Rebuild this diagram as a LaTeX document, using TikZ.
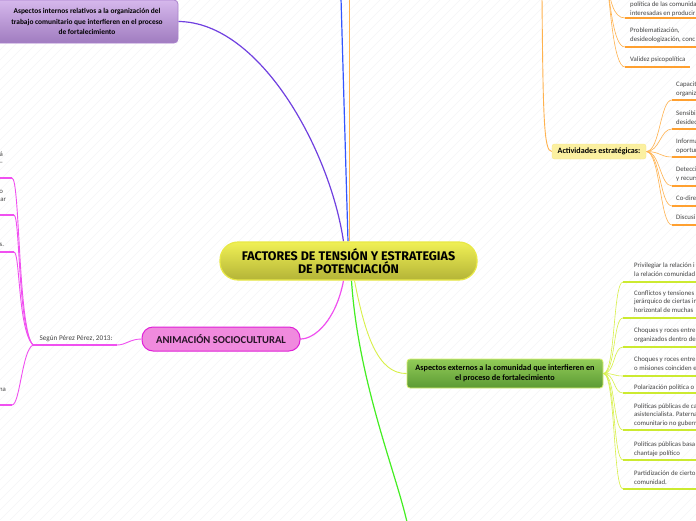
\documentclass[tikz,border=0pt]{standalone}
\usepackage{fontspec}
\setmainfont{Carlito}
\newfontfamily\titlefont{Fira Sans}
\definecolor{bgl}{HTML}{EEEEF2}
\definecolor{purp}{HTML}{7040E0}
\definecolor{blu}{HTML}{3355FF}
\definecolor{org}{HTML}{FFB24D}
\definecolor{orgU}{HTML}{FFA030}
\definecolor{mag}{HTML}{F050F0}
\definecolor{grn}{HTML}{44EE22}
\definecolor{ylg}{HTML}{D8F048}
\definecolor{ylgU}{HTML}{CCEA30}
\definecolor{txt}{HTML}{444444}
\pgfdeclarelayer{back}
\pgfdeclarelayer{bg}
\pgfsetlayers{back,bg,main}
\tikzset{
  mainline/.style={line width=1.2pt},
  leafline/.style={line width=0.6pt},
  underl/.style={line width=1.5pt},
  leaf/.style={inner sep=0pt, align=left, text=txt, font=\fontsize{6.8}{8.5}\selectfont},
  frag/.style={inner sep=0pt, text=txt, font=\fontsize{6.8}{8.5}\selectfont},
  centerbox/.style={rounded corners=18pt, minimum width=257pt, minimum height=38pt, inner sep=0pt,
    top color={rgb,255:red,240;green,240;blue,85}, bottom color={rgb,255:red,180;green,180;blue,55},
    draw={rgb,255:red,232;green,232;blue,70}, line width=1.2pt, align=center,
    font=\titlefont\bfseries\fontsize{12.5}{13.5}\selectfont},
  innerbox/.style={rounded corners=4pt, minimum width=182pt, minimum height=43pt, inner sep=0pt,
    top color={rgb,255:red,214;green,184;blue,236}, bottom color={rgb,255:red,160;green,124;blue,192},
    draw={rgb,255:red,170;green,130;blue,205}, line width=0.8pt, align=center,
    font=\bfseries\fontsize{7.4}{10.5}\selectfont},
  animbox/.style={rounded corners=11pt, minimum width=158pt, minimum height=24pt, inner sep=0pt,
    fill={rgb,255:red,240;green,138;blue,222}, draw={rgb,255:red,224;green,32;blue,216}, line width=1pt,
    font=\bfseries\fontsize{10.6}{12}\selectfont, text={rgb,255:red,40;green,20;blue,40}},
  extbox/.style={rounded corners=3pt, minimum width=196pt, minimum height=29pt, inner sep=0pt,
    top color={rgb,255:red,146;green,204;blue,88}, bottom color={rgb,255:red,92;green,154;blue,52},
    draw={rgb,255:red,216;green,240;blue,112}, line width=0.8pt, align=center,
    font=\bfseries\fontsize{8.2}{10}\selectfont},
  actbox/.style={rounded corners=2.5pt, minimum width=94pt, minimum height=15pt, inner sep=0pt,
    fill={rgb,255:red,251;green,240;blue,160}, draw={rgb,255:red,248;green,232;blue,140}, line width=0.4pt,
    font=\bfseries\fontsize{8.1}{9}\selectfont}
}
\begin{document}
\begin{tikzpicture}[x=1pt,y=-1pt]
\useasboundingbox (0,0) rectangle (696,520);
\begin{pgfonlayer}{back}
\fill[white] (0,0) rectangle (696,520);
\begin{scope}
\clip (0,0) rectangle (696,520);
\foreach \i in {-520,-510,...,700} \draw[bgl, line width=0.3pt] (\i,520) -- (\i+520,0);
\end{scope}
\end{pgfonlayer}

% main nodes
\node[centerbox] (c) at (348.5,261) {FACTORES DE TENSIÓN Y ESTRATEGIAS\\DE POTENCIACIÓN};
\node[innerbox] (in) at (87,21.5) {Aspectos internos relativos a la organización del\\trabajo comunitario que interfieren en el proceso\\de fortalecimiento};
\node[animbox] (anim) at (221,339) {ANIMACIÓN SOCIOCULTURAL};
\node[extbox] (ext) at (505,373.5) {Aspectos externos a la comunidad que interfieren en\\el proceso de fortalecimiento};
\node[actbox] (act) at (599,151.5) {Actividades estratégicas:};

% free ends
\coordinate (bluetop) at (341,-2);
\coordinate (orgtop) at (349.5,-2);
\coordinate (gbot) at (407,522);
\coordinate (acttop) at (542,-4);
\coordinate (ptop) at (606,-25);
\coordinate (sr) at (117,345);
\coordinate (sl) at (33,345);

\begin{pgfonlayer}{bg}
\draw[mainline, purp] (in.east) .. controls (260,22) and (330,150) .. ([xshift=-5pt]c.north);
\draw[mainline, blu] ([xshift=-0.5pt]c.north) -- (bluetop);
\draw[mainline, org] ([xshift=1pt]c.north) -- (orgtop);
\draw[mainline, mag] ([xshift=-5pt]c.south) .. controls (336,320) and (315,339) .. (anim.east);
\draw[mainline, grn] ([xshift=3pt]c.south) .. controls (358,380) and (395,470) .. (gbot);
\draw[mainline, ylg, line width=0.9pt] ([xshift=6pt]c.south) .. controls (365,335) and (378,374) .. (ext.west);
\draw[mainline, org, line width=0.9pt] (acttop) .. controls (543,120) and (544,151.5) .. (act.west);
% Segun
\draw[leafline, mag, line width=0.9pt] (anim.west) .. controls (130,339) and (126,345) .. (sr);
\draw[underl, mag, line width=1.8pt] (sr) -- (sl);
\foreach \y/\xe [count=\k] in {178/12,215/14,252/14} {
  \coordinate (ml\k) at (\xe,\y);
  \draw[leafline, mag, line width=0.9pt] (sl) .. controls (18,330) and (20,\y) .. (ml\k);
  \draw[underl, mag, line width=1.8pt] (ml\k) -- (-2,\y);
}
\coordinate (ml4) at (12,405);
\draw[leafline, mag, line width=0.9pt] (sl) .. controls (22,350) and (20,405) .. (ml4);
\draw[underl, mag, line width=1.8pt] (ml4) -- (-2,405);
% top orange children
\foreach \y/\xe [count=\k] in {18/700,47/700,67/690} {
  \coordinate (ou\k) at (625,\y);
  \draw[leafline, org] (ptop) .. controls (610,0) and (613,\y) .. (ou\k);
  \draw[underl, orgU] (ou\k) -- (\xe,\y);
}
% act children
\foreach \y [count=\k] in {100,129,157,186,206,225} {
  \coordinate (au\k) at (672,\y);
  \draw[leafline, org] (act.east) .. controls +(14,0) and +(-12,0) .. (au\k);
  \draw[underl, orgU] (au\k) -- (700,\y);
}
% ext children
\foreach \y [count=\k] in {282,318,347,376,393,430,460,489} {
  \coordinate (eu\k) at (623,\y);
  \draw[leafline, ylg] (ext.east) .. controls +(12,0) and +(-10,0) .. (eu\k);
  \draw[underl, ylgU] (eu\k) -- (700,\y);
}
\end{pgfonlayer}

% Segun label
\node[frag, anchor=base, font=\fontsize{7.2}{8.5}\selectfont] (segun) at (76,340) {Según Pérez Pérez, 2013:};
% left fragments
\node[frag, anchor=base east] (f1) at (3.2,156) {á};
\node[frag, anchor=base east] (f2) at (3.2,164) {–};
\node[frag, anchor=base east] (f3) at (3.2,193) {o};
\node[frag, anchor=base east] (f4) at (6.2,201) {ar};
\node[frag, anchor=base east] (f5) at (4.2,246) {s.};
\node[frag, anchor=base east] (f6) at (6.2,391) {na};

% top orange leaves
\node[leaf, anchor=base west] (o1) at (630,6) {política de las comunida};
\node[leaf, anchor=base west] (o1b) at (630,15) {interesadas en producir};
\node[leaf, anchor=base west] (o2) at (630,41) {Problematización,\\desideologización, conc};
\node[leaf, anchor=base west] (o3) at (630,61) {Validez psicopolítica};

% act leaves
\node[leaf, anchor=base west] (a1) at (676,95) {Capacit\\organiza};
\node[leaf, anchor=base west] (a2) at (676,124) {Sensibi\\desidec};
\node[leaf, anchor=base west] (a3) at (676,152) {Informa\\oportur};
\node[leaf, anchor=base west] (a4) at (676,180) {Detecci\\y recurs};
\node[leaf, anchor=base west] (a5) at (676,200) {Co-dire};
\node[leaf, anchor=base west] (a6) at (676,219) {Discusi};

% ext leaves
\node[leaf, anchor=base west] (e1) at (634,276) {Privilegiar la relación i\\la relación comunidad};
\node[leaf, anchor=base west] (e2) at (634,312) {Conflictos y tensiones\\jerárquico de ciertas in\\horizontal de muchas};
\node[leaf, anchor=base west] (e3) at (634,341) {Choques y roces entre\\organizados dentro de};
\node[leaf, anchor=base west] (e4) at (634,370) {Choques y roces entre\\o misiones coinciden e};
\node[leaf, anchor=base west] (e5) at (634,389) {Polarización política o};
\node[leaf, anchor=base west] (e6) at (634,425) {Políticas públicas de ca\\asistencialista. Paterna\\comunitario no guberr};
\node[leaf, anchor=base west] (e7) at (634,455) {Políticas públicas basa\\chantaje político};
\node[leaf, anchor=base west] (e8) at (634,484) {Partidización de cierto\\comunidad.};
\end{tikzpicture}
\end{document}
